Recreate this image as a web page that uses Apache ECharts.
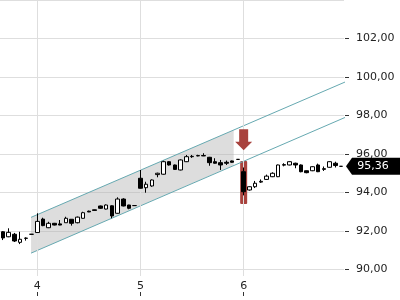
<!DOCTYPE html>
<html><head><meta charset="utf-8">
<script src="https://cdn.jsdelivr.net/npm/echarts@6/dist/echarts.min.js"></script>
<style>html,body{margin:0;padding:0;background:#fff}#c{width:400px;height:300px}</style>
</head><body><div id="c"></div>
<script>
const categories = [
 '3 14:00','3 14:30','3 15:00','3 15:30','3 16:00','3 16:30',
 '4 08:00','4 08:30','4 09:00','4 09:30','4 10:00','4 10:30','4 11:00','4 11:30','4 12:00','4 12:30','4 13:00','4 13:30','4 14:00','4 14:30','4 15:00','4 15:30','4 16:00','4 16:30',
 '5 08:00','5 08:30','5 09:00','5 09:30','5 10:00','5 10:30','5 11:00','5 11:30','5 12:00','5 12:30','5 13:00','5 13:30','5 14:00','5 14:30','5 15:00','5 15:30','5 16:00','5 16:30',
 '6 08:00','6 08:30','6 09:00','6 09:30','6 10:00','6 10:30','6 11:00','6 11:30','6 12:00','6 12:30','6 13:00','6 13:30','6 14:00','6 14:30','6 15:00','6 15:30','6 16:00','6 16:30'
];
const opens  = [91.96,91.70,91.83,91.41,91.63,91.83, 91.92,92.62,92.17,92.40,92.37,92.43,92.61,92.43,92.66,93.03,93.10,93.30,93.14,93.31,92.92,93.66,93.35,93.32,
                94.74,94.25,94.34,94.93,94.95,95.60,95.43,95.17,95.60,95.86,95.90,95.92,95.83,95.60,95.55,95.57,95.64,95.72,
                95.08,94.13,94.30,94.54,94.68,94.82,94.82,95.42,95.43,95.52,95.43,95.13,95.13,95.43,95.20,95.31,95.52,95.36];
const closes = [91.64,91.93,91.48,91.57,91.62,91.83, 92.50,92.28,92.40,92.31,92.31,92.66,92.40,92.72,92.95,92.99,93.07,93.18,93.35,92.78,93.66,93.30,93.18,93.32,
                94.22,94.43,94.65,95.00,95.60,95.43,95.20,95.69,95.86,95.88,95.92,95.90,95.55,95.52,95.43,95.52,95.57,95.72,
                94.04,94.30,94.48,94.58,94.85,95.00,95.43,95.45,95.60,95.43,95.08,95.03,95.34,95.08,95.24,95.60,95.40,95.36];
const lows   = [91.53,91.68,91.43,91.32,91.50,91.83, 91.90,92.25,92.15,92.29,92.30,92.43,92.28,92.40,92.65,92.98,93.06,93.15,93.12,92.66,92.90,93.28,93.13,93.32,
                94.20,93.99,94.30,94.79,94.93,95.40,95.18,95.15,95.58,95.80,95.88,95.89,95.39,95.50,95.17,95.43,95.55,95.72,
                93.85,94.10,94.23,94.50,94.66,94.80,94.80,95.36,95.41,95.26,95.05,95.00,95.11,95.06,95.12,95.29,95.30,95.36];
const highs  = [92.00,92.14,91.90,91.96,91.67,91.83, 92.92,92.69,92.48,92.42,92.57,92.74,92.61,92.75,93.00,93.06,93.11,93.32,93.38,93.33,93.75,93.70,93.36,93.32,
                95.17,94.56,94.68,95.03,95.65,95.63,95.45,95.72,95.95,95.95,95.96,96.04,95.85,95.78,95.69,95.66,95.66,95.72,
                95.30,94.32,94.60,94.68,94.93,95.05,95.45,95.52,95.62,95.55,95.46,95.14,95.36,95.50,95.35,95.62,95.60,95.36];

// channel (x in candle index units)
const channelX = [4.92, 59.85];
const upperY = [92.71, 99.76];
const lowerY = [90.85, 97.92];
const shadeX = [4.92, 40.26];
const shadeLow = [90.85, 95.42];
const shadeHigh = [92.71, 97.25];

// highlighted candle and arrow
const highlightCat = '6 08:00';
const highlightLow = 93.40;
const highlightHigh = 95.64;
const arrowValue = 96.74;

const FONT = 'DejaVu Sans';
const RED = '#a8423d';
const TEAL = '#66a9b1';
const GRIDC = '#dedede';
const isDayStart = (v) => String(v).endsWith('08:00');
const fmt = (v) => v.toFixed(2).replace('.', ',');
const lastClose = closes[closes.length - 1];

const candleData = opens.map((o, i) => [o, closes[i], lows[i], highs[i]]);
const HIDE = {show: false, axisLine: {show: false, onZero: false}, axisTick: {show: false}, axisLabel: {show: false}, splitLine: {show: false}};

const chart = echarts.init(document.getElementById('c'), null, {renderer: 'canvas'});
chart.setOption({
  animation: false,
  backgroundColor: '#fff',
  grid: [
    {left: 0, right: 56, top: 0, height: 308, containLabel: false, outerBoundsMode: 'none'},
    {left: 0, right: 56, top: 0, height: 276, containLabel: false, outerBoundsMode: 'none'}
  ],
  xAxis: [
    Object.assign({type: 'category', gridIndex: 0, position: 'bottom', data: categories, boundaryGap: true}, HIDE),
    Object.assign({type: 'value', gridIndex: 0, position: 'bottom', min: -0.5, max: 59.5}, HIDE),
    {type: 'category', gridIndex: 1, position: 'bottom', data: categories, boundaryGap: true,
     axisLine: {show: false, onZero: false}, axisTick: {show: false}, splitLine: {show: false},
     axisLabel: {interval: (i, v) => isDayStart(v), formatter: (v) => v.split(' ')[0],
                 margin: 5, color: '#222', fontSize: 11, fontFamily: FONT}},
    {type: 'category', gridIndex: 1, position: 'bottom', offset: 16, data: categories, boundaryGap: true,
     axisLine: {show: false, onZero: false}, splitLine: {show: false}, axisLabel: {show: false},
     axisTick: {show: true, alignWithLabel: true, interval: (i, v) => isDayStart(v), length: 4,
                lineStyle: {color: '#333', width: 1}}}
  ],
  yAxis: [
    {type: 'value', gridIndex: 0, position: 'right', min: 88, max: 104, interval: 2, offset: 1,
     axisLine: {show: false, onZero: false},
     axisTick: {show: true, inside: false, length: 4, lineStyle: {color: '#333'}},
     axisLabel: {margin: 11, color: '#222', fontSize: 11, fontFamily: FONT, formatter: fmt,
                 showMaxLabel: false, showMinLabel: false},
     splitLine: {show: true, lineStyle: {color: GRIDC, width: 1}}},
    Object.assign({type: 'value', gridIndex: 1, position: 'right', min: 0, max: 1}, HIDE)
  ],
  series: [
    {type: 'line', xAxisIndex: 2, yAxisIndex: 1, silent: true, symbol: 'none',
     data: categories.map(() => '-'),
     markLine: {silent: true, symbol: ['none', 'none'], label: {show: false},
       lineStyle: {color: GRIDC, type: 'solid', width: 1},
       data: categories.filter(isDayStart).map(c => ({xAxis: c}))}},
    {type: 'custom', xAxisIndex: 1, yAxisIndex: 0, silent: true, z: 1,
     data: [[shadeX[0], shadeLow[0], shadeHigh[0], shadeX[1], shadeLow[1], shadeHigh[1]]],
     encode: {x: [0, 3], y: [1, 2, 4, 5]},
     renderItem: (params, api) => ({
       type: 'polygon',
       shape: {points: [
         api.coord([api.value(0), api.value(1)]),
         api.coord([api.value(3), api.value(4)]),
         api.coord([api.value(3), api.value(5)]),
         api.coord([api.value(0), api.value(2)])
       ]},
       style: {fill: 'rgba(175,175,175,0.42)'}
     })},
    {type: 'line', xAxisIndex: 1, yAxisIndex: 0, silent: true, symbol: 'none', z: 3, clip: false,
     lineStyle: {color: TEAL, width: 1}, data: channelX.map((x, i) => [x, upperY[i]]),
     markPoint: {silent: true,
       data: [{coord: [59.5, lastClose], symbol: 'path://M0,8.5L6,0L60,0L60,17L6,17Z',
               symbolSize: [60, 17], symbolOffset: [32, 0], itemStyle: {color: '#000'},
               label: {show: true, position: 'inside', formatter: fmt(lastClose), color: '#fff',
                       fontSize: 11, fontFamily: FONT, offset: [-3, 0]}}]}},
    {type: 'line', xAxisIndex: 1, yAxisIndex: 0, silent: true, symbol: 'none', z: 3, clip: false,
     lineStyle: {color: TEAL, width: 1}, data: channelX.map((x, i) => [x, lowerY[i]])},
    {type: 'bar', xAxisIndex: 0, yAxisIndex: 0, stack: 'hl', barWidth: 7, silent: true, z: 2,
     itemStyle: {color: 'rgba(0,0,0,0)'},
     data: categories.map(c => c === highlightCat ? highlightLow : '-')},
    {type: 'bar', xAxisIndex: 0, yAxisIndex: 0, stack: 'hl', barWidth: 7, silent: true, z: 2,
     itemStyle: {color: RED, borderRadius: 1},
     data: categories.map(c => c === highlightCat ? +(highlightHigh - highlightLow).toFixed(2) : '-'),
     markPoint: {silent: true,
       data: [{coord: [highlightCat, arrowValue],
               symbol: 'path://M4,0L13,0L13,12.5L17,12.5L8.5,21L0,12.5L4,12.5Z',
               symbolSize: [17, 21], itemStyle: {color: RED}, label: {show: false}}]}},
    {type: 'candlestick', xAxisIndex: 0, yAxisIndex: 0, barWidth: 4, z: 5, silent: true,
     itemStyle: {color: '#fff', color0: '#000', borderColor: '#000', borderColor0: '#000', borderWidth: 1},
     data: candleData}
  ]
});
</script></body></html>
